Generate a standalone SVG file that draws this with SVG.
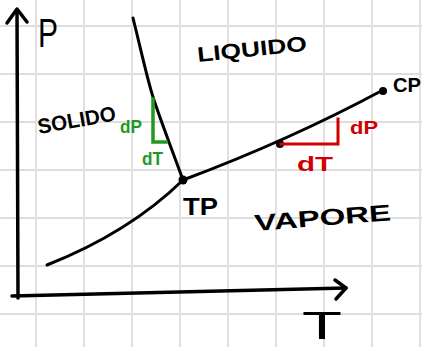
<svg xmlns="http://www.w3.org/2000/svg" width="422" height="347" viewBox="0 0 422 347">
<style>
.grid line{stroke:#dedede;stroke-width:1.8}
.ink{fill:none;stroke:#000;stroke-width:3;stroke-linecap:round;stroke-linejoin:round}
.axis{fill:none;stroke:#000;stroke-width:3.5;stroke-linecap:round;stroke-linejoin:round}
.t{font-family:"Liberation Sans",Arial,sans-serif;font-weight:bold;fill:#000}
.big{font-weight:normal}
.green{fill:none;stroke:#1f9a1f;stroke-width:3.5;stroke-linecap:square}
.red{fill:none;stroke:#d00000;stroke-width:3;stroke-linecap:square}
.tg{fill:#1f9a1f}
.tr{fill:#d00000}
</style>
<rect width="422" height="347" fill="#fff"/>
<g class="grid" id="grid">
<line x1="36" y1="0" x2="36" y2="347"/><line x1="84" y1="0" x2="84" y2="347"/><line x1="132" y1="0" x2="132" y2="347"/><line x1="180" y1="0" x2="180" y2="347"/><line x1="228" y1="0" x2="228" y2="347"/><line x1="276" y1="0" x2="276" y2="347"/><line x1="324" y1="0" x2="324" y2="347"/><line x1="372" y1="0" x2="372" y2="347"/><line x1="420" y1="0" x2="420" y2="347"/>
<line x1="0" y1="26" x2="422" y2="26"/><line x1="0" y1="74" x2="422" y2="74"/><line x1="0" y1="122" x2="422" y2="122"/><line x1="0" y1="170" x2="422" y2="170"/><line x1="0" y1="218" x2="422" y2="218"/><line x1="0" y1="266" x2="422" y2="266"/><line x1="0" y1="314" x2="422" y2="314"/>
</g>
<g id="axes">
<path class="axis" d="M18,298 L17,10"/>
<path class="axis" d="M7,23 L17,9 L27,22"/>
<path class="axis" d="M12,296 C100,294 200,292 346,288"/>
<path class="axis" d="M335,280 L346,288 L336,299"/>
<text class="t big" x="38" y="47" font-size="40" textLength="20" lengthAdjust="spacingAndGlyphs">P</text>
<text class="t big" x="302" y="339" font-size="38" textLength="40" lengthAdjust="spacingAndGlyphs">T</text>
</g>
<g id="connectors">
<path class="ink" d="M133,18 C141,50 147,78 153,97 S175,158 183,180"/>
<path class="ink" d="M47,265 C90,248 140,222 183,180"/>
<path class="ink" d="M183,180 Q290,140 383,90"/>
</g>
<g id="TP">
<circle cx="183" cy="180" r="4.5" fill="#000"/>
<text class="t" x="183" y="215" font-size="24" textLength="35" lengthAdjust="spacingAndGlyphs">TP</text>
</g>
<g id="CP">
<circle cx="383" cy="91" r="4" fill="#000"/>
<text class="t" x="393" y="92" font-size="21" textLength="28" lengthAdjust="spacingAndGlyphs">CP</text>
</g>
<g id="point">
<circle cx="280" cy="144" r="4" fill="#000"/>
</g>
<g id="solido">
<text class="t" x="39" y="134" font-size="21" textLength="79" lengthAdjust="spacingAndGlyphs" transform="rotate(-10 39 134)">SOLIDO</text>
</g>
<g id="liquido">
<text class="t" x="198" y="62" font-size="21" textLength="110" lengthAdjust="spacingAndGlyphs" transform="rotate(-6 198 62)">LIQUIDO</text>
</g>
<g id="vapore">
<text class="t" x="255" y="231" font-size="23" textLength="137" lengthAdjust="spacingAndGlyphs" transform="rotate(-4.5 255 231)">VAPORE</text>
</g>
<g id="green-triangle">
<path class="green" d="M153,99 L153,142 L166,142"/>
<text class="t tg" x="120" y="133" font-size="18" textLength="22" lengthAdjust="spacingAndGlyphs">dP</text>
<text class="t tg" x="142" y="165" font-size="18" textLength="21" lengthAdjust="spacingAndGlyphs">dT</text>
</g>
<g id="red-triangle">
<path class="red" d="M281,144 L338,144 L338,119"/>
<text class="t tr" x="350" y="134" font-size="19" textLength="28" lengthAdjust="spacingAndGlyphs">dP</text>
<text class="t tr" x="297" y="171" font-size="21" textLength="36" lengthAdjust="spacingAndGlyphs">dT</text>
</g>
</svg>
